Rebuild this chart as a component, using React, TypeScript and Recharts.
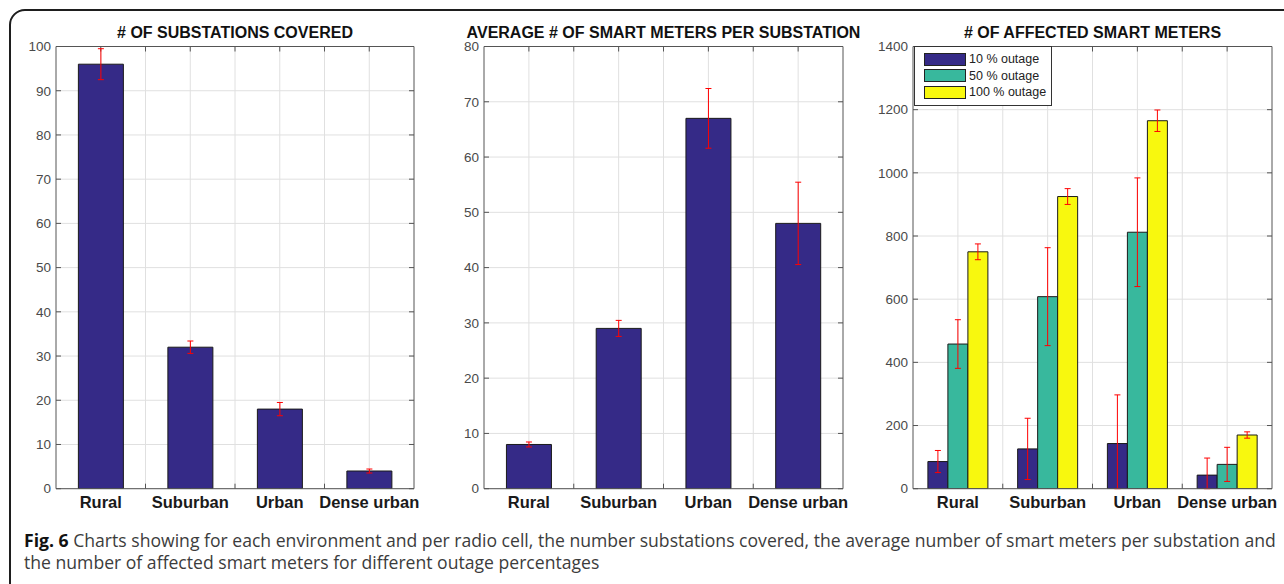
import React from 'react';
import { BarChart, Bar, XAxis, YAxis, CartesianGrid, ErrorBar, Legend } from 'recharts';

const environments = ['Rural', 'Suburban', 'Urban', 'Dense urban'];

// # of substations covered
const substationsCovered = [96, 32, 18, 4];
const substationsErr = [3.5, 1.4, 1.5, 0.45];

// average # of smart meters per substation
const metersPerSubstation = [8, 29, 67, 48];
const metersPerSubstationErr = [0.45, 1.45, 5.4, 7.45];

// # of affected smart meters
const outageNames = ['10 % outage', '50 % outage', '100 % outage'];
const outage10 = [86, 126, 143, 43];
const outage10Err = [35, 97, 154, 54];
const outage50 = [458, 608, 812, 77];
const outage50Err = [77, 155, 172, 54];
const outage100 = [750, 925, 1165, 170];
const outage100Err = [25, 25, 34, 10];

const ticks100 = [0, 10, 20, 30, 40, 50, 60, 70, 80, 90, 100];
const ticks80 = [0, 10, 20, 30, 40, 50, 60, 70, 80];
const ticks1400 = [0, 200, 400, 600, 800, 1000, 1200, 1400];
const gridSteps = [1, 1.5, 2, 2.5, 3, 3.5, 4];

const BLUE = '#352a87';
const TEAL = '#38b89d';
const YELLOW = '#f8f80e';
const FRAME = '#555';
const GRID = '#e0e0e0';
const FONT = '"Liberation Sans", Arial, sans-serif';

// error bars are cut off at the x axis, as in the original plot
const errPair = (v: number, e: number) => [Math.min(e, v), e];

const substationData = environments.map((env, i) => ({ env, value: substationsCovered[i], err: substationsErr[i] }));
const metersData = environments.map((env, i) => ({ env, value: metersPerSubstation[i], err: metersPerSubstationErr[i] }));
const outageData = environments.map((env, i) => ({
  env,
  o10: outage10[i], e10: errPair(outage10[i], outage10Err[i]),
  o50: outage50[i], e50: errPair(outage50[i], outage50Err[i]),
  o100: outage100[i], e100: errPair(outage100[i], outage100Err[i]),
}));

const PLOT_TOP = 46.5;
const PLOT_BOTTOM = 488.7;
const H = 584;

// light grid line with short inward ticks at both ends (MATLAB style)
const hLine = (p: any) => (
  <g key={p.key}>
    <line x1={p.x1} y1={p.y1} x2={p.x2} y2={p.y2} stroke={GRID} strokeWidth={1} />
    <line x1={p.x1} y1={p.y1} x2={p.x1 + 5} y2={p.y1} stroke={FRAME} strokeWidth={1} />
    <line x1={p.x2 - 5} y1={p.y1} x2={p.x2} y2={p.y1} stroke={FRAME} strokeWidth={1} />
  </g>
);
const vLine = (p: any) => (
  <g key={p.key}>
    <line x1={p.x1} y1={p.y1} x2={p.x2} y2={p.y2} stroke={GRID} strokeWidth={1} />
    <line x1={p.x1} y1={p.y1} x2={p.x1} y2={p.y1 + 5} stroke={FRAME} strokeWidth={1} />
    <line x1={p.x1} y1={p.y2 - 5} x2={p.x1} y2={p.y2} stroke={FRAME} strokeWidth={1} />
  </g>
);

const vGen = ({ offset }: any) =>
  gridSteps.map((s) => offset.left + (offset.width * (s - 0.5)) / environments.length);

const OutageLegend = ({ payload }: any) => {
  const items = [...(payload || [])].sort(
    (a: any, b: any) => outageNames.indexOf(a.value) - outageNames.indexOf(b.value)
  );
  return (
    <div
      style={{
        display: 'inline-block',
        whiteSpace: 'nowrap',
        border: '1px solid #333',
        background: '#fff',
        padding: '4px 5px 4px 9px',
        fontFamily: FONT,
        fontSize: 12.5,
        color: '#222',
      }}
    >
      {items.map((p: any) => (
        <div key={p.value} style={{ display: 'flex', alignItems: 'center', height: 16.5 }}>
          <span
            style={{
              display: 'inline-block',
              flex: 'none',
              width: 40,
              height: 11,
              background: p.color,
              border: '1px solid #222',
              marginRight: 3,
            }}
          />
          <span>{p.value}</span>
        </div>
      ))}
    </div>
  );
};

interface PanelProps {
  title: string;
  x0: number;
  x1: number;
  data: any[];
  domainMax: number;
  ticks: number[];
  categoryGap: string;
  children: React.ReactNode;
  legend?: boolean;
}

function Panel({ title, x0, x1, data, domainMax, ticks, categoryGap, children, legend }: PanelProps) {
  const w = x1 - x0 + 60;
  return (
    <>
      <div
        style={{
          position: 'absolute',
          left: x0 - 60,
          width: x1 - x0 + 120,
          top: 24,
          textAlign: 'center',
          fontFamily: FONT,
          fontWeight: 'bold',
          fontSize: 16,
          lineHeight: '18px',
          color: '#111',
          whiteSpace: 'nowrap',
        }}
      >
        {title}
      </div>
      <div style={{ position: 'absolute', left: x0 - 50, top: 0 }}>
        <BarChart
          width={w}
          height={H}
          data={data}
          margin={{ top: PLOT_TOP - 1, right: 9, left: 10, bottom: H - PLOT_BOTTOM - 30 }}
          barCategoryGap={categoryGap}
          barGap={0}
        >
          <CartesianGrid horizontal={hLine} vertical={vLine} verticalCoordinatesGenerator={vGen} />
          <XAxis
            dataKey="env"
            height={30}
            axisLine={{ stroke: FRAME }}
            tickLine={false}
            interval={0}
            tick={{ fontFamily: FONT, fontSize: 16.5, fontWeight: 'bold', fill: '#1a1a1a' }}
          />
          <XAxis xAxisId="top" orientation="top" dataKey="env" height={1} axisLine={{ stroke: FRAME }} tick={false} tickLine={false} />
          <YAxis
            width={40}
            domain={[0, domainMax]}
            ticks={ticks}
            allowDataOverflow
            interval={0}
            axisLine={{ stroke: FRAME }}
            tickLine={false}
            tickSize={0}
            tickMargin={5}
            tick={{ fontFamily: FONT, fontSize: 13.5, fill: '#4a4a4a' }}
          />
          <YAxis yAxisId="right" orientation="right" width={1} domain={[0, domainMax]} axisLine={{ stroke: FRAME }} tick={false} tickLine={false} />
          {legend && (
            <Legend
              layout="vertical"
              align="center"
              verticalAlign="middle"
              content={<OutageLegend />}
              wrapperStyle={{ left: 51, top: 46, width: 'auto', height: 'auto' }}
            />
          )}
          {children}
        </BarChart>
      </div>
    </>
  );
}

export default function App() {
  return (
    <div style={{ position: 'fixed', left: 0, top: 0, width: 1284, height: 584, background: '#fff', overflow: 'hidden' }}>
      <div
        style={{
          position: 'absolute',
          left: 9,
          top: 9,
          width: 1400,
          height: 700,
          border: '2px solid #1e1e1e',
          borderRadius: 16,
        }}
      />
      <Panel title="# OF SUBSTATIONS COVERED" x0={56} x1={414} data={substationData} domainMax={100} ticks={ticks100} categoryGap="25%">
        <Bar dataKey="value" fill={BLUE} stroke="#1a1a1a" strokeWidth={1} isAnimationActive={false}>
          <ErrorBar dataKey="err" width={3} stroke="#ff0000" strokeWidth={1} direction="y" />
        </Bar>
      </Panel>
      <Panel title="AVERAGE # OF SMART METERS PER SUBSTATION" x0={484} x1={843} data={metersData} domainMax={80} ticks={ticks80} categoryGap="25%">
        <Bar dataKey="value" fill={BLUE} stroke="#1a1a1a" strokeWidth={1} isAnimationActive={false}>
          <ErrorBar dataKey="err" width={3} stroke="#ff0000" strokeWidth={1} direction="y" />
        </Bar>
      </Panel>
      <Panel title="# OF AFFECTED SMART METERS" x0={913} x1={1272} data={outageData} domainMax={1400} ticks={ticks1400} categoryGap="16.6%" legend>
        <Bar dataKey="o10" name={outageNames[0]} fill={BLUE} stroke="#1a1a1a" strokeWidth={1} isAnimationActive={false}>
          <ErrorBar dataKey="e10" width={3} stroke="#ff0000" strokeWidth={1} direction="y" />
        </Bar>
        <Bar dataKey="o50" name={outageNames[1]} fill={TEAL} stroke="#1a1a1a" strokeWidth={1} isAnimationActive={false}>
          <ErrorBar dataKey="e50" width={3} stroke="#ff0000" strokeWidth={1} direction="y" />
        </Bar>
        <Bar dataKey="o100" name={outageNames[2]} fill={YELLOW} stroke="#1a1a1a" strokeWidth={1} isAnimationActive={false}>
          <ErrorBar dataKey="e100" width={3} stroke="#ff0000" strokeWidth={1} direction="y" />
        </Bar>
      </Panel>
      <div
        style={{
          position: 'absolute',
          left: 24,
          top: 529,
          fontFamily: '"Open Sans", sans-serif',
          fontSize: 17.6,
          lineHeight: '22px',
          color: '#3c3c3c',
          whiteSpace: 'nowrap',
        }}
      >
        <div>
          <b style={{ color: '#111' }}>Fig. 6</b> Charts showing for each environment and per radio cell, the number substations covered, the
          average number of smart meters per substation and
        </div>
        <div>the number of affected smart meters for different outage percentages</div>
      </div>
    </div>
  );
}
